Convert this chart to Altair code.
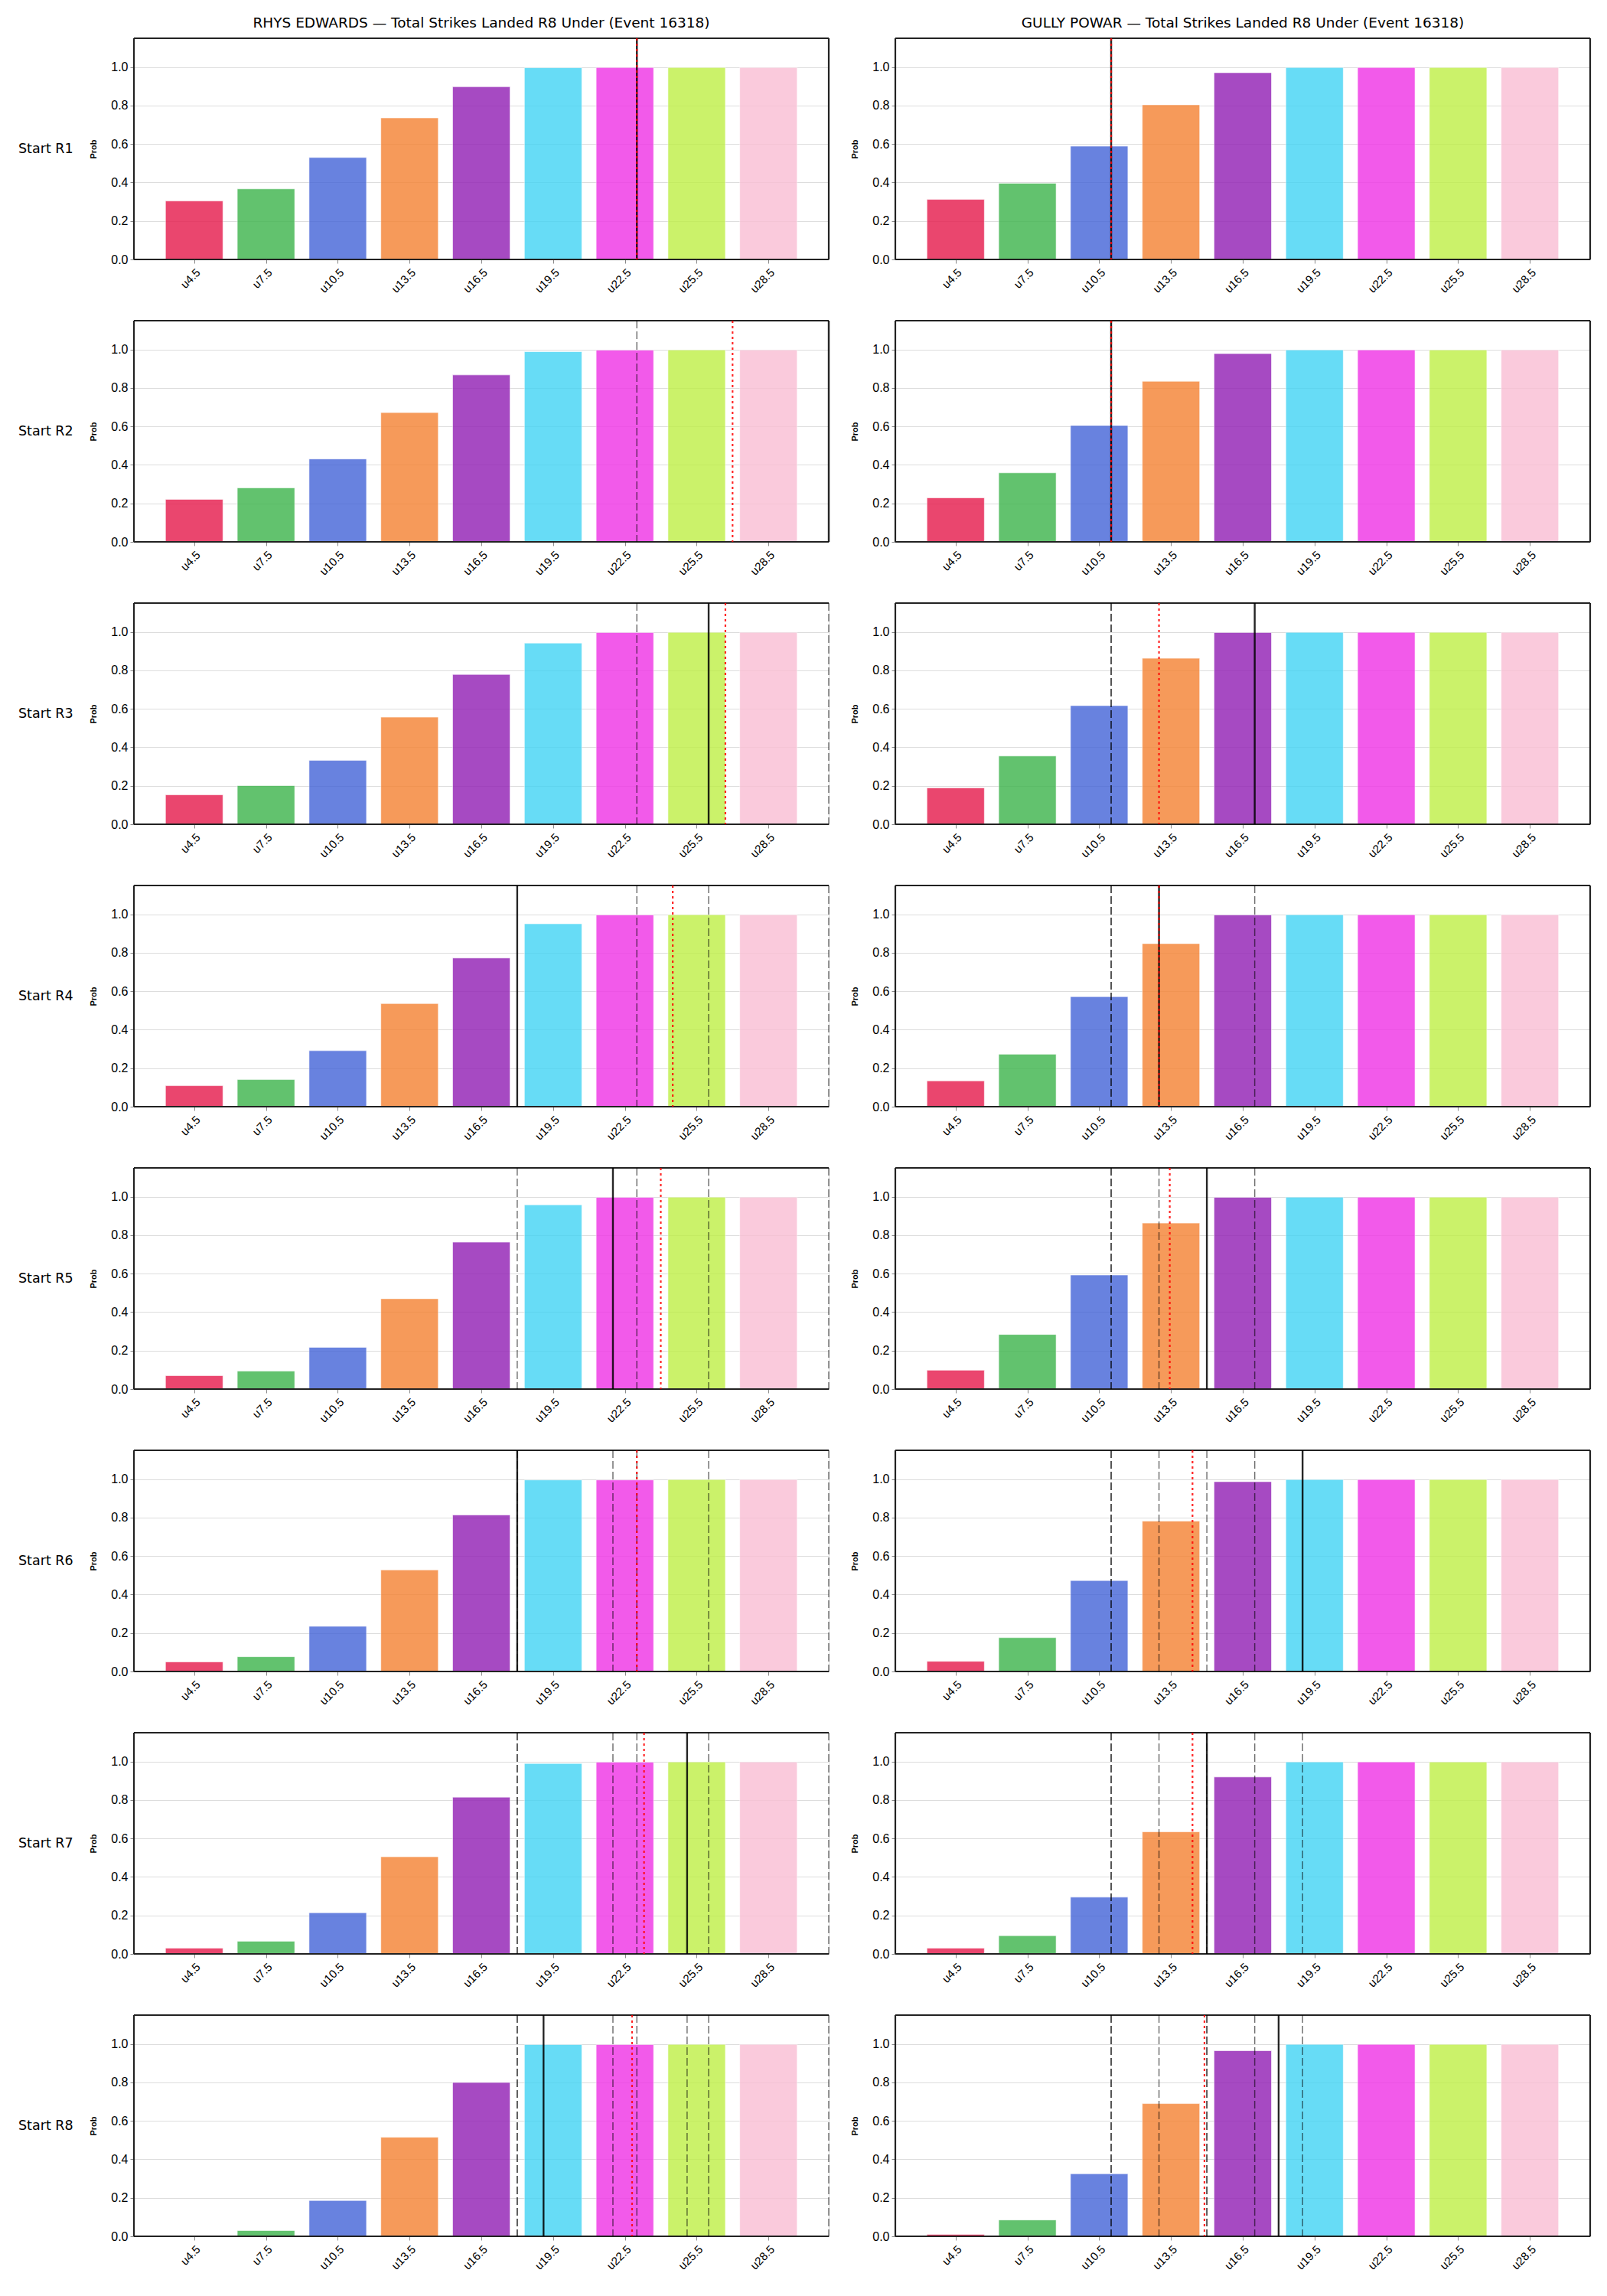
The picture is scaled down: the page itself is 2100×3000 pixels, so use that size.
import altair as alt
import pandas as pd

# ---------------- data ----------------
thresholds = [4.5, 7.5, 10.5, 13.5, 16.5, 19.5, 22.5, 25.5, 28.5]
labels = ["u4.5", "u7.5", "u10.5", "u13.5", "u16.5", "u19.5", "u22.5", "u25.5", "u28.5"]
colors = ["#e6194b", "#3cb44b", "#4363d8", "#f58231", "#911eb4",
          "#42d4f4", "#f032e6", "#bfef45", "#fabed4"]
rounds = ["Start R1", "Start R2", "Start R3", "Start R4",
          "Start R5", "Start R6", "Start R7", "Start R8"]
fighters = ["RHYS EDWARDS", "GULLY POWAR"]
title_suffix = " \u2014 Total Strikes Landed R8 Under (Event 16318)"

rhys_probs = [
    [0.304, 0.367, 0.530, 0.736, 0.898, 0.997, 0.998, 0.998, 0.998],
    [0.221, 0.281, 0.431, 0.672, 0.868, 0.989, 0.997, 0.998, 0.998],
    [0.153, 0.201, 0.332, 0.557, 0.779, 0.942, 0.997, 0.998, 0.998],
    [0.109, 0.141, 0.291, 0.536, 0.773, 0.951, 0.997, 0.998, 0.998],
    [0.070, 0.094, 0.217, 0.470, 0.764, 0.958, 0.997, 0.998, 0.998],
    [0.050, 0.077, 0.235, 0.528, 0.814, 0.996, 0.996, 0.998, 0.998],
    [0.030, 0.066, 0.214, 0.505, 0.815, 0.990, 0.997, 0.998, 0.998],
    [0.003, 0.030, 0.186, 0.515, 0.800, 0.997, 0.997, 0.998, 0.998],
]
gully_probs = [
    [0.312, 0.396, 0.589, 0.804, 0.971, 0.998, 0.998, 0.998, 0.998],
    [0.229, 0.359, 0.605, 0.835, 0.979, 0.998, 0.998, 0.998, 0.998],
    [0.189, 0.355, 0.617, 0.863, 0.997, 0.998, 0.998, 0.998, 0.998],
    [0.134, 0.273, 0.572, 0.848, 0.997, 0.998, 0.998, 0.998, 0.998],
    [0.098, 0.284, 0.593, 0.863, 0.997, 0.998, 0.998, 0.998, 0.998],
    [0.053, 0.176, 0.473, 0.782, 0.987, 0.998, 0.998, 0.998, 0.998],
    [0.030, 0.095, 0.295, 0.635, 0.920, 0.998, 0.998, 0.998, 0.998],
    [0.010, 0.085, 0.325, 0.690, 0.965, 0.998, 0.998, 0.998, 0.998],
]
# solid black line (current start round); earlier rounds' lines shown dashed
rhys_solid = [23.0, 32.0, 26.0, 18.0, 22.0, 18.0, 25.1, 19.1]
gully_solid = [11.0, 11.0, 17.0, 13.0, 15.0, 19.0, 15.0, 18.0]
# red dotted line
rhys_red = [23.0, 27.0, 26.7, 24.5, 24.0, 23.0, 23.3, 22.8]
gully_red = [11.0, 11.0, 13.0, 13.0, 13.45, 14.4, 14.4, 14.9]

# ---------------- table ----------------
rows = []
for fi, (probs, solid, red) in enumerate([(rhys_probs, rhys_solid, rhys_red),
                                          (gully_probs, gully_solid, gully_red)]):
    for r, rnd in enumerate(rounds):
        for t, lab, p in zip(thresholds, labels, probs[r]):
            rows.append({"kind": "bar", "f": fi, "r": r, "start": rnd,
                         "thr": t, "label": lab, "prob": p})
        for prev in solid[:r]:
            rows.append({"kind": "prev", "f": fi, "r": r, "start": rnd, "value": prev})
        rows.append({"kind": "solid", "f": fi, "r": r, "start": rnd, "value": solid[r]})
        rows.append({"kind": "red", "f": fi, "r": r, "start": rnd, "value": red[r]})
df = pd.DataFrame(rows)

FONT = "DejaVu Sans"
W, H = 908, 289
XMAX = 31.02
x_scale = alt.Scale(domain=[1.98, XMAX], nice=False, zero=False, clamp=True)
y_scale = alt.Scale(domain=[0, 1.15], nice=False, zero=True)
x_axis = alt.Axis(values=thresholds, labelExpr="'u' + datum.value", title=None,
                  grid=False, labelAngle=315, labelFontSize=15, labelPadding=4)
y_axis = alt.Axis(values=[0, 0.2, 0.4, 0.6, 0.8, 1.0], format=".1f", title="Prob",
                  grid=True, labelFontSize=16, labelPadding=3, titlePadding=17)
SPINE = dict(color="#222", strokeWidth=2.2)


def panel(fi, r):
    sel = f"datum.f == {fi} && datum.r == {r}"
    one = sel + " && datum.kind == 'solid'"
    bars = alt.Chart().transform_filter(sel + " && datum.kind == 'bar'").transform_calculate(
        x0="datum.thr - 1.2", x1="datum.thr + 1.2"
    ).mark_bar(opacity=0.8, stroke="white", strokeWidth=0.6).encode(
        x=alt.X("x0:Q", scale=x_scale, axis=x_axis),
        x2="x1:Q",
        y=alt.Y("prob:Q", scale=y_scale, axis=y_axis),
        y2=alt.datum(0),
        color=alt.Color("label:N", scale=alt.Scale(domain=labels, range=colors), legend=None),
    )
    # spines: top, bottom, left always; right only where no line sits on the edge
    top = alt.Chart().transform_filter(one).mark_rule(**SPINE).encode(
        x=alt.value(0), x2=alt.value(W), y=alt.value(0))
    bottom = alt.Chart().transform_filter(one).mark_rule(**SPINE).encode(
        x=alt.value(0), x2=alt.value(W), y=alt.value(H))
    left = alt.Chart().transform_filter(one).mark_rule(**SPINE).encode(
        x=alt.value(0), y=alt.value(0), y2=alt.value(H))
    right = alt.Chart().transform_filter(sel + " && datum.kind != 'bar'").transform_aggregate(
        mx="max(value)"
    ).transform_filter(f"datum.mx < {XMAX}").mark_rule(**SPINE).encode(
        x=alt.value(W), y=alt.value(0), y2=alt.value(H))
    prev = alt.Chart().transform_filter(sel + " && datum.kind == 'prev'").mark_rule(
        color="black", opacity=0.55, strokeWidth=1.5, strokeDash=[10, 4]
    ).encode(x=alt.X("value:Q", scale=x_scale, axis=x_axis))
    solid = alt.Chart().transform_filter(one).mark_rule(
        color="black", opacity=0.85, strokeWidth=2.4
    ).encode(x=alt.X("value:Q", scale=x_scale, axis=x_axis))
    red = alt.Chart().transform_filter(sel + " && datum.kind == 'red'").mark_rule(
        color="red", opacity=0.85, strokeWidth=2.2, strokeDash=[3, 4]
    ).encode(x=alt.X("value:Q", scale=x_scale, axis=x_axis))
    layers = [bars, top, bottom, left, right, prev, solid, red]
    if fi == 0:
        lab = alt.Chart().transform_filter(one).mark_text(
            align="left", baseline="middle", font=FONT, fontSize=17.5, color="black"
        ).encode(text="start:N", x=alt.value(-151), y=alt.value(H / 2))
        layers.append(lab)
    ch = alt.layer(*layers).properties(width=W, height=H)
    if r == 0:
        ch = ch.properties(title=alt.TitleParams(
            fighters[fi] + title_suffix, fontSize=18.5, font=FONT, fontWeight="normal",
            color="black", anchor="middle", offset=9))
    return ch


rows_charts = [alt.hconcat(panel(0, r), panel(1, r), spacing=26) for r in range(len(rounds))]
chart = alt.vconcat(*rows_charts, data=df, spacing=31).properties(
    padding={"left": 23, "top": 20, "right": 5, "bottom": 5}
).configure_view(
    strokeWidth=0
).configure_axis(
    domain=False, labelFont=FONT, labelColor="black", tickColor="#222",
    tickSize=6, tickWidth=1.2, titleFont=FONT, titleFontSize=13,
    titleFontWeight="normal", titleColor="black", gridColor="#e5e5e5", gridWidth=1.2
).configure(background="white")

chart.save("out.html", embed_options={"renderer": "svg", "actions": False})
